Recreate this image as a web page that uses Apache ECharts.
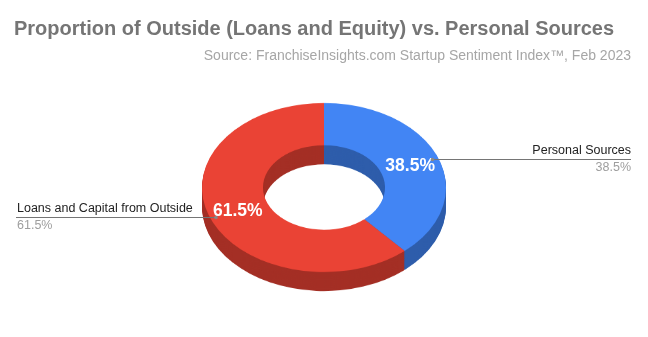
<!DOCTYPE html>
<html>
<head>
<meta charset="utf-8">
<script src="https://cdn.jsdelivr.net/npm/echarts@6/dist/echarts.min.js"></script>
<style>
  html, body { margin: 0; padding: 0; background: #fff; }
  #wrap { position: relative; width: 648px; height: 337px; overflow: hidden; background: #fff; }
  #pie { position: absolute; left: 0; top: 0; width: 648px; transform-origin: 0 0; }
  #fg { position: absolute; left: 0; top: 0; width: 648px; height: 337px; }
</style>
</head>
<body>
<div id="wrap"><div id="pie"></div><div id="fg"></div></div>
<script>
// ---- data ----
const titleText = 'Proportion of Outside (Loans and Equity) vs. Personal Sources';
const subtitleText = 'Source: FranchiseInsights.com Startup Sentiment Index\u2122, Feb 2023';
const categories = ['Personal Sources', 'Loans and Capital from Outside'];
const values = [38.5, 61.5];
const topColors = ['#4285F4', '#EA4335'];
const sideColors = ['#2E5DAB', '#A42F25'];

// ---- layout ----
const FONT = 'Liberation Sans, Arial, sans-serif';
const cx = 324, cy = 187.5, rx = 122, ry = 84.5, innerFrac = 0.5, depth = 19;
const s = ry / rx; // vertical squash of the pie
const pieH = 337 / s;
const pieDiv = document.getElementById('pie');
pieDiv.style.height = pieH + 'px';
pieDiv.style.transform = 'scaleY(' + s + ')';

const pieData = (cols) => categories.map((c, i) => ({ name: c, value: values[i], itemStyle: { color: cols[i] } }));
const series = [];
for (let d = depth; d >= 0; d--) {
  series.push({
    type: 'pie',
    silent: true,
    animation: false,
    startAngle: 90,
    clockwise: true,
    center: [cx, cy / s + d / s],
    radius: [rx * innerFrac, rx],
    label: { show: false },
    labelLine: { show: false },
    itemStyle: { borderWidth: 0 },
    emphasis: { disabled: true },
    z: 2 + (depth - d),
    data: pieData(d === 0 ? topColors : sideColors)
  });
}
const pieChart = echarts.init(pieDiv, null, { renderer: 'canvas' });
pieChart.setOption({ animation: false, series: series });

// ---- foreground text ----
const total = values.reduce((a, b) => a + b, 0);
const pctText = values.map(v => (v / total * 100).toFixed(1) + '%');
// in-slice labels placed at the slice mid-angle
let acc = 0;
const sliceLabels = values.map((v, i) => {
  const mid = (acc + v / 2) / total * 2 * Math.PI; acc += v;
  const k = 0.755;
  return {
    type: 'text', z: 20,
    style: {
      x: cx + rx * k * Math.sin(mid), y: cy - ry * k * Math.cos(mid) + 1,
      text: pctText[i], fill: '#ffffff', font: 'bold 17.5px ' + FONT,
      textAlign: 'center', textVerticalAlign: 'middle'
    }
  };
});

const fg = echarts.init(document.getElementById('fg'), null, { renderer: 'canvas' });
fg.setOption({
  animation: false,
  graphic: [
    { type: 'text', style: { x: 14, y: 29, text: titleText, fill: '#757575', font: 'bold 20px ' + FONT, textVerticalAlign: 'middle' } },
    { type: 'text', style: { x: 631, y: 56, text: subtitleText, fill: '#a6a6a6', font: '14px ' + FONT, textAlign: 'right', textVerticalAlign: 'middle' } },
    ...sliceLabels,
    // right label (Personal Sources)
    { type: 'line', z: 21, shape: { x1: 432.5, y1: 159.5, x2: 631, y2: 159.5 }, style: { stroke: '#757575', lineWidth: 1 } },
    { type: 'circle', z: 22, shape: { cx: 432.5, cy: 159.5, r: 1.8 }, style: { fill: '#888' } },
    { type: 'text', style: { x: 631, y: 151, text: categories[0], fill: '#222', font: '12.5px ' + FONT, textAlign: 'right', textVerticalAlign: 'middle' } },
    { type: 'text', style: { x: 631, y: 167.5, text: pctText[0], fill: '#9e9e9e', font: '12.5px ' + FONT, textAlign: 'right', textVerticalAlign: 'middle' } },
    // left label (Loans and Capital from Outside)
    { type: 'line', z: 21, shape: { x1: 16, y1: 217.5, x2: 216, y2: 217.5 }, style: { stroke: '#757575', lineWidth: 1 } },
    { type: 'circle', z: 22, shape: { cx: 216, cy: 217.5, r: 1.8 }, style: { fill: '#888' } },
    { type: 'text', style: { x: 17, y: 209, text: categories[1], fill: '#222', font: '12.5px ' + FONT, textAlign: 'left', textVerticalAlign: 'middle' } },
    { type: 'text', style: { x: 17, y: 225.5, text: pctText[1], fill: '#9e9e9e', font: '12.5px ' + FONT, textAlign: 'left', textVerticalAlign: 'middle' } }
  ]
});
</script>
</body>
</html>
